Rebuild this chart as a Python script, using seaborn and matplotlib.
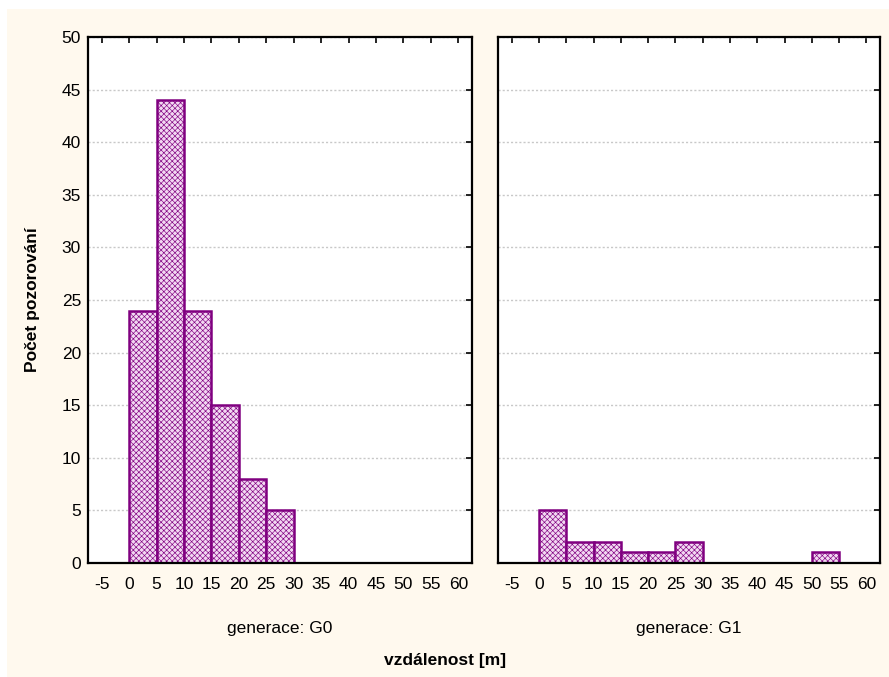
import numpy as np
import pandas as pd
import matplotlib
matplotlib.use('Agg')
import matplotlib.pyplot as plt
import seaborn as sns

# histogram counts (bins of 5 m)
bin_starts = [0, 5, 10, 15, 20, 25, 30, 35, 40, 45, 50]
g0_counts = [24, 44, 24, 15, 8, 5, 0, 0, 0, 0, 0]
g1_counts = [5, 2, 2, 1, 1, 2, 0, 0, 0, 0, 1]
groups = ['G0', 'G1']
x_ticks = list(range(-5, 65, 5))
y_ticks = list(range(0, 55, 5))

bin_width = 5
rows = []
for g, counts in zip(groups, [g0_counts, g1_counts]):
    for b, c in zip(bin_starts, counts):
        rows.append({'generace': g, 'mid': b + bin_width / 2, 'n': c})
df = pd.DataFrame(rows)

sns.set_style('white')
plt.rcParams['font.family'] = ['Liberation Sans', 'DejaVu Sans']
plt.rcParams['hatch.linewidth'] = 0.45
plt.rcParams['axes.unicode_minus'] = False
plt.rcParams['text.color'] = 'black'
plt.rcParams['axes.labelcolor'] = 'black'

purple = '#800080'
cream = '#fff9ee'

fig = plt.figure(figsize=(8.89, 6.77), dpi=100, facecolor='white')
# cream panel behind everything
fig.patches.append(plt.Rectangle((7 / 889, 0), 1, 1 - 9 / 677, transform=fig.transFigure,
                                 facecolor=cream, edgecolor='none', zorder=-10))

ax_left = fig.add_axes([88 / 889, 1 - 563 / 677, (472 - 88) / 889, (563 - 37) / 677])
ax_right = fig.add_axes([498 / 889, 1 - 563 / 677, (880 - 498) / 889, (563 - 37) / 677])

for ax, g in zip([ax_left, ax_right], groups):
    sub = df[df['generace'] == g]
    sns.histplot(data=sub, x='mid', weights='n', binwidth=bin_width, binrange=(0, 55),
                 ax=ax, color=purple, facecolor='#f2d8f2', edgecolor=purple,
                 linewidth=1.8, alpha=1, hatch='xxxxxx')
    # drop empty bins so no edge line sits on the axis
    for p in list(ax.patches):
        if p.get_height() == 0:
            p.remove()
    ax.set_facecolor('white')
    ax.set_xlim(-7.5, 62.5)
    ax.set_ylim(0, 50)
    ax.set_xticks(x_ticks)
    ax.set_yticks(y_ticks)
    ax.yaxis.grid(True, linestyle=(0, (1.5, 1.5)), color='#c8c8c8', linewidth=1)
    ax.set_axisbelow(True)
    ax.tick_params(direction='in', length=4, width=1.2, top=True, right=True,
                   labelsize=12.5, colors='black', pad=10)
    ax.tick_params(axis='y', pad=5)
    for s in ax.spines.values():
        s.set_color('black')
        s.set_linewidth(1.6)
    ax.set_xlabel('generace: ' + g, fontsize=12.5, labelpad=21)
    ax.set_ylabel('')

ax_right.tick_params(labelleft=False)

fig.text(33 / 889, 1 - 300 / 677, 'Počet pozorování', rotation=90, ha='center', va='center',
         fontsize=12.5, fontweight='bold')
fig.text(445 / 889, 1 - 660 / 677, 'vzdálenost [m]', ha='center', va='center',
         fontsize=12.5, fontweight='bold')

fig.savefig('out.png', dpi=100, facecolor='white')
